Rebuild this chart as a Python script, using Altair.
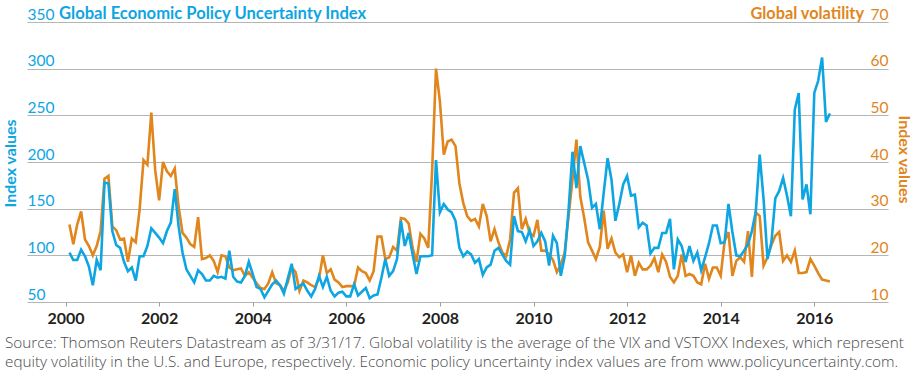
import altair as alt
import pandas as pd

BLUE = "#0ea5e3"
ORANGE = "#e0861c"
GRID = "#b5b5b5"
FONT = "Lato"

# Global Economic Policy Uncertainty Index, monthly, Jan 2000 - Apr 2016
epu = [103, 95, 95, 106, 99, 88, 68, 95, 84, 178, 177, 126,
       111, 108, 93, 83, 87, 73, 99, 99, 110, 129, 124, 119,
       113, 126, 135, 171, 131, 103, 85, 78, 71, 84, 80, 73,
       73, 78, 76, 77, 75, 105, 77, 72, 71, 78, 93, 80,
       66, 64, 55, 62, 69, 73, 68, 59, 75, 91, 64, 67,
       70, 62, 56, 64, 78, 66, 77, 62, 56, 60, 61, 56,
       56, 69, 57, 61, 65, 54, 57, 58, 76, 96, 78, 83,
       96, 137, 110, 124, 101, 80, 99, 99, 99, 100, 202, 146,
       155, 149, 146, 137, 108, 99, 104, 101, 92, 96, 79, 87,
       90, 105, 108, 101, 94, 90, 142, 126, 125, 115, 127, 110,
       115, 124, 115, 89, 121, 113, 78, 99, 149, 211, 172, 217,
       199, 181, 151, 155, 128, 167, 204, 181, 137, 155, 176, 185,
       164, 165, 130, 135, 132, 102, 108, 108, 124, 124, 139, 85,
       117, 110, 93, 110, 94, 103, 84, 98, 113, 132, 132, 113,
       114, 155, 125, 100, 99, 105, 112, 126, 147, 208, 160, 96,
       114, 161, 169, 183, 164, 142, 256, 274, 160, 176, 144, 274,
       287, 312, 243, 252]

# Global volatility (average of VIX and VSTOXX), same months
vol = [26.6, 22.4, 26.6, 29.4, 23.4, 22.0, 20.0, 22.0, 25.2, 36.4, 37.0, 26.2,
       25.4, 23.4, 23.6, 18.6, 23.6, 22.8, 29.8, 40.4, 39.4, 50.6, 38.2, 31.8,
       40.0, 38.0, 37.0, 38.6, 30.4, 24.8, 23.8, 22.4, 21.8, 28.2, 19.2, 19.4,
       20.0, 18.8, 16.4, 20.0, 19.8, 17.4, 16.8, 17.0, 17.2, 15.6, 16.4, 15.2,
       14.0, 13.0, 12.8, 14.0, 16.4, 14.0, 13.6, 12.4, 14.2, 17.4, 16.4, 12.4,
       14.6, 14.2, 13.6, 13.2, 15.0, 20.0, 16.2, 17.0, 14.8, 14.2, 13.2, 13.4,
       13.4, 13.4, 17.4, 16.6, 16.2, 14.6, 16.6, 24.0, 24.0, 19.2, 19.6, 21.8,
       21.0, 28.0, 27.8, 26.8, 21.6, 18.6, 24.6, 23.6, 21.6, 38.0, 60.0, 53.0,
       41.6, 44.4, 44.8, 43.4, 35.4, 31.2, 28.4, 27.4, 27.8, 26.2, 31.0, 28.4,
       23.0, 25.6, 22.8, 20.6, 19.8, 23.4, 33.4, 34.4, 25.6, 27.8, 24.8, 24.2,
       27.6, 21.0, 21.0, 20.2, 19.0, 16.4, 18.0, 20.6, 28.4, 36.2, 44.8, 32.6,
       28.0, 22.8, 21.0, 19.2, 21.8, 29.6, 21.4, 23.6, 20.6, 19.6, 20.2, 16.4,
       20.0, 15.6, 18.4, 17.0, 17.0, 17.8, 19.4, 16.4, 20.2, 18.6, 15.4, 14.2,
       15.6, 20.2, 15.6, 16.0, 15.6, 14.2, 13.8, 18.2, 15.0, 17.4, 17.4, 15.6,
       23.0, 25.0, 15.6, 18.8, 19.6, 18.6, 25.2, 15.4, 29.2, 28.4, 17.8, 19.6,
       22.2, 24.2, 25.0, 18.8, 20.0, 18.6, 21.0, 16.2, 16.2, 16.4, 19.2, 17.8,
       16.2, 14.8, 14.6, 14.4]

# month-end positions in decimal years
t = [2000 + (i + 1) / 12 for i in range(len(epu))]

year_ticks = [2000, 2002, 2004, 2006, 2008, 2010, 2012, 2014, 2016]
left_ticks = [50, 100, 150, 200, 250, 300, 350]
right_ticks = [10, 20, 30, 40, 50, 60, 70]

title_left = "Global Economic Policy Uncertainty Index"
title_right = "Global volatility"
source_line1 = ("Source: Thomson Reuters Datastream as of 3/31/17. Global volatility is the "
                "average of the VIX and VSTOXX Indexes, which represent")
source_line2 = ("equity volatility in the U.S. and Europe, respectively. Economic policy "
                "uncertainty index values are from www.policyuncertainty.com.")

df = pd.DataFrame({"t": t, "epu": epu, "vol": vol})
base = alt.Chart(df)

x_enc = alt.X(
    "t:Q",
    scale=alt.Scale(domain=[1999.177, 2017.575], nice=False, zero=False),
    axis=alt.Axis(
        values=year_ticks, format="d", title=None, grid=False, domain=False,
        tickSize=4, tickColor="#9a9a9a", labelPadding=4,
        labelFont=FONT, labelFontSize=16, labelFontWeight="bold",
        labelColor="#231f20",
    ),
)

orange_line = base.mark_line(color=ORANGE, strokeWidth=2.6).encode(
    x=x_enc,
    y=alt.Y(
        "vol:Q",
        scale=alt.Scale(domain=[10, 70], nice=False, zero=False),
        axis=alt.Axis(
            orient="right", values=right_ticks, grid=False, domain=False,
            ticks=False, labelAlign="right", labelBaseline="bottom",
            labelPadding=0, labelFont=FONT, labelFontSize=15.5,
            labelFontWeight="normal", labelColor=ORANGE,
            title="Index values", titleAngle=90, titleX=15, titleY=137,
            titleAlign="center", titleBaseline="middle", titleColor=ORANGE,
            titleFont=FONT, titleFontSize=16, titleFontWeight="bold",
        ),
    ),
)

blue_line = base.mark_line(color=BLUE, strokeWidth=2.6).encode(
    x=x_enc,
    y=alt.Y(
        "epu:Q",
        scale=alt.Scale(domain=[50, 350], nice=False, zero=False),
        axis=alt.Axis(
            orient="left", values=left_ticks, grid=True, gridColor=GRID,
            gridWidth=1, domain=False, ticks=False, labelAlign="left",
            labelBaseline="bottom", labelPadding=0, labelFont=FONT,
            labelFontSize=15.5, labelFontWeight="normal", labelColor=BLUE,
            title="Index values", titleAngle=270, titleX=-17, titleY=141,
            titleAlign="center", titleBaseline="middle", titleColor=BLUE,
            titleFont=FONT, titleFontSize=16, titleFontWeight="bold",
        ),
    ),
)

title_l = alt.Chart(pd.DataFrame({"s": [title_left]})).mark_text(
    align="left", baseline="alphabetic", font=FONT, fontSize=16.6,
    fontWeight="bold", color=BLUE,
).encode(text="s:N", x=alt.value(32), y=alt.value(-3))

title_r = alt.Chart(pd.DataFrame({"s": [title_right]})).mark_text(
    align="right", baseline="alphabetic", font=FONT, fontSize=16.3,
    fontWeight="bold", color=ORANGE,
).encode(text="s:N", x=alt.value(837), y=alt.value(-3))

src1 = alt.Chart(pd.DataFrame({"s": [source_line1]})).mark_text(
    align="left", baseline="alphabetic", font="Open Sans", fontSize=15.3,
    fontWeight=300, color="#4a4a4a",
).encode(text="s:N", x=alt.value(-22), y=alt.value(326))

src2 = alt.Chart(pd.DataFrame({"s": [source_line2]})).mark_text(
    align="left", baseline="alphabetic", font="Open Sans", fontSize=15.3,
    fontWeight=300, color="#4a4a4a",
).encode(text="s:N", x=alt.value(-22), y=alt.value(345))

chart = (
    alt.layer(orange_line, blue_line, title_l, title_r, src1, src2)
    .resolve_scale(y="independent")
    .properties(
        width=861, height=280,
        autosize=alt.AutoSizeParams(type="none"),
        padding={"left": 27, "top": 22, "right": 28, "bottom": 73},
    )
    .configure_view(stroke=None)
)

chart.save("out.html", embed_options={"renderer": "svg", "actions": False})
